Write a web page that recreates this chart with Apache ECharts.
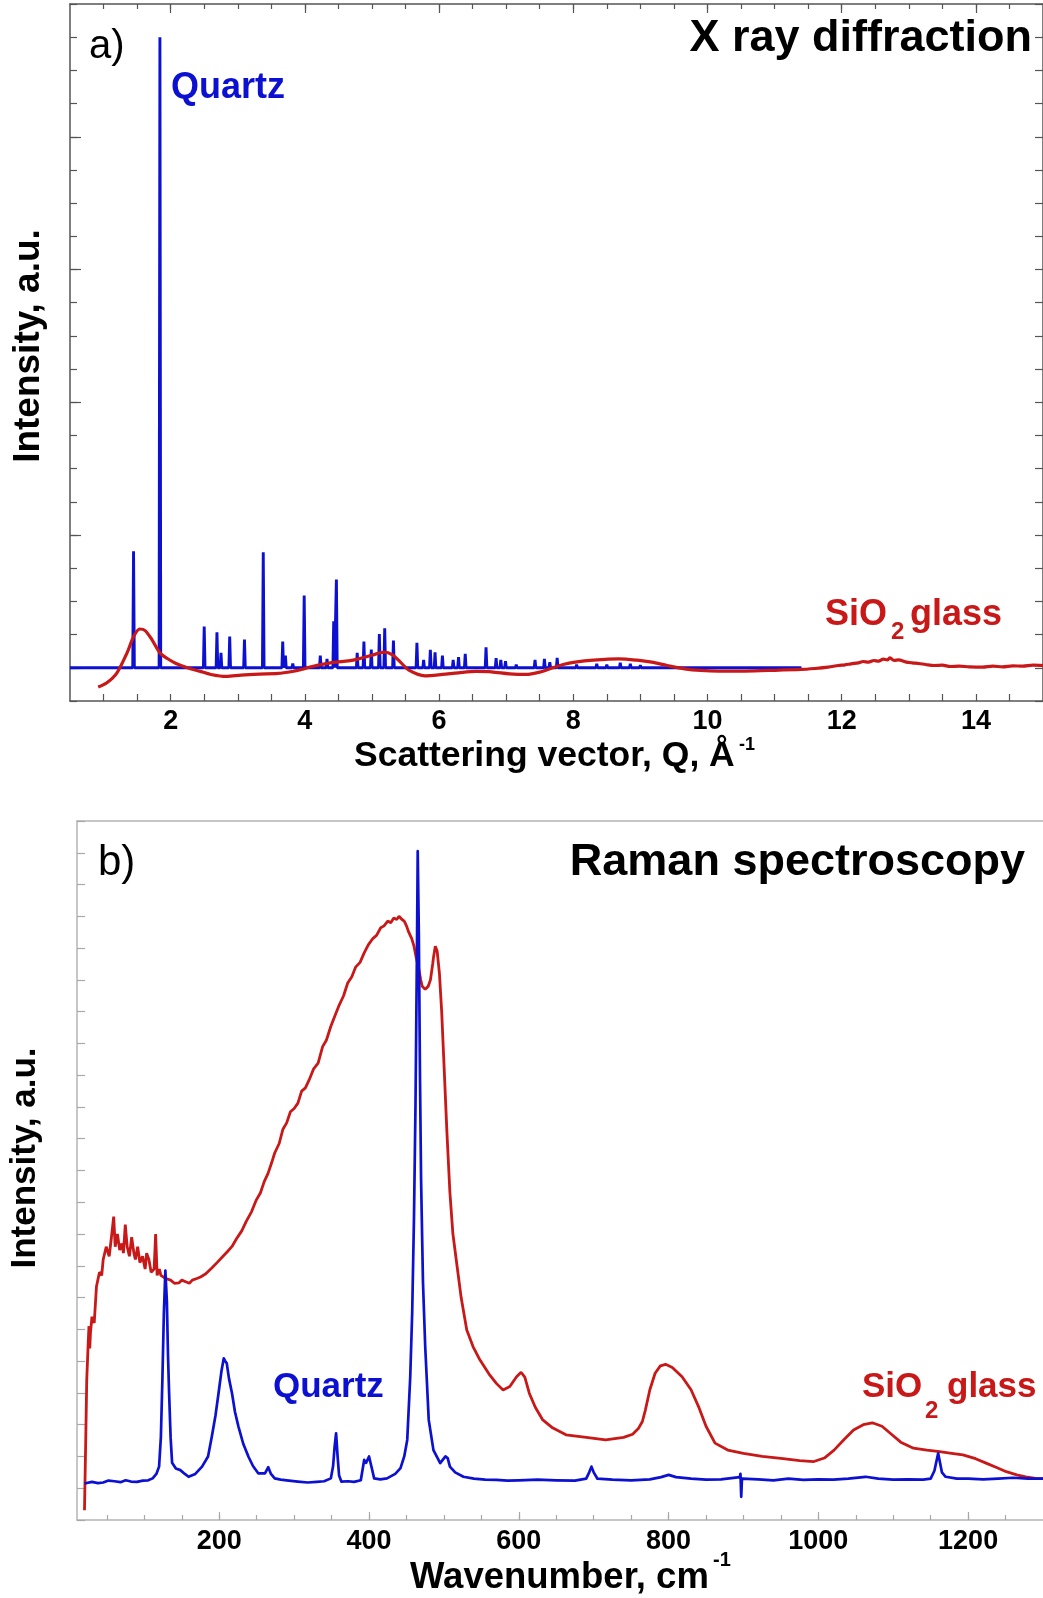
<!DOCTYPE html>
<html>
<head>
<meta charset="utf-8">
<script src="https://cdn.jsdelivr.net/npm/echarts@6/dist/echarts.min.js"></script>
<style>
  html, body { margin: 0; padding: 0; background: #fff; }
  #chart { width: 1043px; height: 1598px; }
</style>
</head>
<body>
<div id="chart"></div>
<script>
// ---- a) X ray diffraction ----
// quartz Bragg peaks: [Q, intensity]
var xrdQuartzPeaks = [
    [1.447, 3.51], [1.84, 19.0], [2.50, 1.24], [2.69, 1.07], [2.75, 0.45],
    [2.88, 0.94], [3.10, 0.85], [3.38, 3.48], [3.67, 0.79], [3.71, 0.37],
    [3.82, 0.13], [3.99, 2.18], [4.23, 0.37], [4.33, 0.27], [4.43, 1.40],
    [4.47, 2.66], [4.78, 0.45], [4.88, 0.79], [4.99, 0.55], [5.11, 1.02],
    [5.19, 1.19], [5.32, 0.82], [5.67, 0.75], [5.77, 0.24], [5.87, 0.54],
    [5.94, 0.47], [6.05, 0.37], [6.21, 0.24], [6.29, 0.32], [6.39, 0.42],
    [6.70, 0.62], [6.85, 0.29], [6.92, 0.24], [6.99, 0.20], [7.15, 0.10],
    [7.43, 0.24], [7.57, 0.27], [7.65, 0.17], [7.76, 0.30], [8.05, 0.10],
    [8.35, 0.12], [8.50, 0.10], [8.70, 0.15], [8.85, 0.12], [9.00, 0.08]
];
var xrdQuartzRange = [0.5, 11.4];

// SiO2 glass structure factor: [Q, intensity]
var xrdGlass = [
    [0.92, -0.58], [1.05, -0.45], [1.20, -0.15], [1.35, 0.45], [1.45, 0.95],
    [1.54, 1.17], [1.62, 1.12], [1.72, 0.85], [1.84, 0.45], [1.95, 0.28],
    [2.08, 0.13], [2.25, 0.00], [2.43, -0.10], [2.60, -0.20], [2.83, -0.26],
    [3.05, -0.22], [3.32, -0.19], [3.60, -0.17], [3.81, -0.11], [3.95, -0.05],
    [4.11, 0.04], [4.30, 0.12], [4.46, 0.17], [4.65, 0.21], [4.80, 0.27],
    [5.00, 0.38], [5.18, 0.47], [5.30, 0.40], [5.42, 0.18], [5.55, -0.07],
    [5.79, -0.24], [6.05, -0.20], [6.29, -0.15], [6.55, -0.11], [6.78, -0.12],
    [7.05, -0.18], [7.29, -0.20], [7.50, -0.13], [7.69, 0.00], [7.85, 0.10],
    [8.03, 0.17], [8.30, 0.23], [8.68, 0.27], [8.95, 0.23], [9.17, 0.17],
    [9.40, 0.07], [9.66, -0.03], [9.90, -0.08], [10.16, -0.10], [10.50, -0.10],
    [10.90, -0.08], [11.39, -0.05], [11.60, -0.02], [11.80, 0.02], [11.95, 0.07],
    [12.05, 0.09], [12.14, 0.12], [12.25, 0.15], [12.32, 0.19], [12.40, 0.17],
    [12.48, 0.22], [12.55, 0.20], [12.62, 0.26], [12.68, 0.24], [12.72, 0.30],
    [12.78, 0.22], [12.85, 0.24], [12.95, 0.18], [13.05, 0.15], [13.15, 0.13],
    [13.25, 0.10], [13.38, 0.07], [13.50, 0.08], [13.62, 0.04], [13.75, 0.05],
    [13.90, 0.03], [14.10, 0.02], [14.25, 0.05], [14.40, 0.03], [14.55, 0.06],
    [14.70, 0.05], [14.85, 0.08], [15.00, 0.07]
];
var xrdTickLabels = [2, 4, 6, 8, 10, 12, 14];

// ---- b) Raman spectroscopy ----
// SiO2 glass: [wavenumber, intensity]
var ramanGlass = [
    [20, 0.31], [21.5, 2.3], [23, 4.4], [25, 5.6], [26, 6.1], [27, 5.4], [28, 5.9],
    [30, 6.4], [33, 6.2], [36, 7.35], [40, 7.8], [43, 7.7], [45, 8.2], [49, 8.6],
    [53, 8.3], [56, 8.9], [59, 9.55], [61, 8.6], [64, 9.0], [67, 8.5], [70, 8.7],
    [72, 8.4], [74.5, 9.3], [77, 8.6], [80, 8.3], [83, 8.9], [86, 8.4], [88, 8.2],
    [91, 8.6], [94, 8.1], [97.5, 8.3], [101, 7.9], [103, 8.4], [106, 8.2], [109, 7.8],
    [113, 7.9], [115, 9.0], [117, 7.7], [120, 7.9], [122, 7.7], [128.5, 7.6], [135, 7.55],
    [140, 7.45], [146, 7.46], [150, 7.55], [155, 7.5], [160, 7.45], [164, 7.55], [170, 7.6],
    [175, 7.65], [182, 7.75], [190, 7.93], [197, 8.1], [205, 8.3], [211, 8.45], [217, 8.61],
    [223, 8.85], [230, 9.1], [236, 9.4], [243, 9.7], [249, 10.05], [255, 10.3], [260, 10.65],
    [265, 10.9], [270, 11.25], [274, 11.55], [280, 11.85], [285, 12.3], [290, 12.5], [295, 12.85],
    [300, 12.95], [305, 13.12], [310, 13.5], [315, 13.6], [320, 13.85], [326, 14.2], [332, 14.38],
    [338, 14.9], [343, 15.1], [349, 15.54], [355, 15.9], [360, 16.2], [366, 16.5], [371.5, 16.9],
    [377, 17.1], [382, 17.4], [388, 17.55], [393.5, 17.85], [399, 18.1], [405, 18.3], [410, 18.4],
    [415.6, 18.64], [420, 18.7], [425, 18.85], [429, 18.8], [433, 18.95], [437, 18.9], [440, 19.0],
    [444, 18.9], [447, 18.85], [450, 18.7], [453, 18.5], [457, 18.3], [460, 18.06], [463, 17.7],
    [466, 17.4], [469, 17.0], [471, 16.8], [475, 16.7], [479, 16.8], [482, 17.0], [485, 17.5],
    [486, 17.7], [488.5, 18.06], [491, 17.9], [494, 17.2], [497, 16.0], [499.6, 14.6], [504, 12.2],
    [508, 10.3], [512, 9.0], [517, 8.09], [523, 7.0], [530.5, 5.98], [539, 5.45], [548, 5.04],
    [560, 4.6], [570, 4.3], [579, 4.09], [588, 4.2], [597, 4.51], [603, 4.65], [608, 4.5],
    [614, 3.99], [622, 3.55], [632, 3.15], [645, 2.9], [663, 2.68], [690, 2.6], [716, 2.52],
    [740, 2.6], [752, 2.7], [760, 2.89], [765, 3.1], [769, 3.46], [775, 4.1], [782, 4.62],
    [789, 4.85], [796, 4.9], [805, 4.8], [818, 4.51], [830, 4.1], [840, 3.57], [850, 2.95],
    [862, 2.42], [879, 2.2], [900, 2.1], [925, 2.0], [950, 1.94], [975, 1.87], [994, 1.84],
    [1008, 1.95], [1021, 2.2], [1035, 2.55], [1047, 2.83], [1060, 3.0], [1072, 3.06], [1085, 2.95],
    [1096, 2.73], [1110, 2.45], [1127, 2.26], [1145, 2.2], [1162, 2.15], [1178, 2.1], [1193, 2.05],
    [1210, 1.93], [1224, 1.79], [1238, 1.65], [1251, 1.52], [1265, 1.42], [1277, 1.36], [1290, 1.31],
    [1300, 1.3]
];

// quartz: [wavenumber, intensity]
var ramanQuartz = [
    [20, 1.15], [30, 1.2], [38, 1.16], [45, 1.18], [52, 1.24], [60, 1.22], [68, 1.19],
    [75, 1.25], [82, 1.21], [90, 1.2], [98, 1.24], [105, 1.25], [111, 1.31], [116, 1.45],
    [119.6, 1.68], [122, 2.6], [124, 4.4], [126, 6.5], [128, 7.85], [130, 6.9], [131.5, 5.2],
    [133, 4.0], [135, 2.6], [137, 1.8], [142, 1.62], [148, 1.57], [154, 1.45], [159, 1.36],
    [168, 1.45], [177, 1.68], [185, 2.0], [190, 2.62], [195, 3.3], [199, 3.99], [203, 4.7],
    [206, 5.09], [208, 5.0], [210, 4.93], [213, 4.45], [217, 3.99], [221, 3.4], [225.6, 2.94],
    [232, 2.4], [239, 1.99], [245, 1.7], [252, 1.47], [261, 1.47], [265.4, 1.66], [269, 1.45],
    [274, 1.31], [282, 1.27], [290, 1.25], [305, 1.21], [318, 1.18], [330, 1.2], [340, 1.22],
    [349, 1.31], [352, 1.7], [354, 2.3], [356, 2.73], [358, 2.0], [360, 1.4], [363, 1.21],
    [372, 1.22], [380, 1.2], [389, 1.25], [393.5, 1.89], [396, 1.8], [400, 2.0], [403, 1.7],
    [406.8, 1.31], [415, 1.28], [424, 1.31], [435, 1.45], [442, 1.63], [447, 2.0], [451, 2.52],
    [455, 4.5], [457.6, 6.51], [460, 9.5], [462, 13.0], [464, 18.0], [465, 21.05], [466.5, 18.5],
    [468, 14.0], [469.5, 10.7], [472, 7.5], [475, 5.46], [479.7, 3.15], [486, 2.2], [495, 1.79],
    [502, 2.0], [505, 1.95], [508, 1.68], [515, 1.5], [526, 1.36], [540, 1.3], [555, 1.27],
    [570, 1.26], [585, 1.24], [600, 1.25], [625, 1.27], [650, 1.25], [675, 1.24], [690, 1.3],
    [694, 1.5], [697, 1.68], [700, 1.5], [705, 1.3], [725, 1.27], [750, 1.25], [775, 1.28],
    [790, 1.35], [800, 1.42], [810, 1.35], [830, 1.3], [850, 1.27], [870, 1.28], [895, 1.35],
    [896, 1.45], [897, 0.73], [898, 1.3], [920, 1.28], [940, 1.25], [960, 1.3], [980, 1.26],
    [1000, 1.28], [1020, 1.27], [1040, 1.3], [1063, 1.36], [1080, 1.3], [1100, 1.27], [1120, 1.28],
    [1140, 1.27], [1150, 1.3], [1155, 1.55], [1160, 2.1], [1165, 1.5], [1170, 1.36], [1185, 1.3],
    [1200, 1.3], [1220, 1.28], [1240, 1.3], [1260, 1.33], [1280, 1.3], [1300, 1.3]
];
var ramanTickLabels = [200, 400, 600, 800, 1000, 1200];

var BLUE = '#0c10d0';
var RED = '#c81818';
var FONT = '"Liberation Sans", Arial, sans-serif';

var range = function(a, b, step) {
    var out = [];
    for (var v = a; v <= b + 1e-9; v += step) out.push(Math.round(v * 100) / 100);
    return out;
};

// quartz sticks -> line data
var sticks = function(peaks, span) {
    var d = [[span[0], 0]];
    peaks.forEach(function(p) {
        d.push([p[0] - 0.012, 0], [p[0], p[1]], [p[0] + 0.012, 0]);
    });
    d.push([span[1], 0]);
    return d;
};

var frameA = { show: true, onZero: false, lineStyle: { color: '#555', width: 1.5 } };
var frameB = { show: true, onZero: false, lineStyle: { color: '#b4b4b4', width: 1.5 } };
var tickLabel = {
    fontFamily: FONT, fontWeight: 'bold', fontSize: 27, color: '#000',
    formatter: function(v) { return String(v); }
};

var option = {
    animation: false,
    backgroundColor: '#fff',
    grid: [
        { left: 70, right: -4, top: 4, bottom: 897 },
        { left: 77, right: -8, top: 821, bottom: 78 }
    ],
    xAxis: [
        {   // a bottom
            gridIndex: 0, type: 'value', position: 'bottom', min: 0.5, max: 15,
            axisLine: frameA,
            axisTick: { inside: true, length: 7, customValues: range(1, 14.5, 0.5), lineStyle: { color: '#555', width: 1.2 } },
            axisLabel: Object.assign({ margin: 7, customValues: xrdTickLabels }, tickLabel),
            splitLine: { show: false }
        },
        {   // a top, short ticks
            gridIndex: 0, type: 'value', position: 'top', min: 0.5, max: 15,
            axisLine: frameA,
            axisTick: { inside: true, length: 5, customValues: range(1, 14.5, 0.5), lineStyle: { color: '#555', width: 1.2 } },
            axisLabel: { show: false }, splitLine: { show: false }
        },
        {   // a top, long ticks
            gridIndex: 0, type: 'value', position: 'top', min: 0.5, max: 15,
            axisLine: { show: false, onZero: false },
            axisTick: { inside: true, length: 9, customValues: xrdTickLabels, lineStyle: { color: '#555', width: 1.2 } },
            axisLabel: { show: false }, splitLine: { show: false }
        },
        {   // b bottom, short ticks
            gridIndex: 1, type: 'value', position: 'bottom', min: 10, max: 1300,
            axisLine: frameB,
            axisTick: { inside: true, length: 5, customValues: range(50, 1250, 50), lineStyle: { color: '#a8a8a8', width: 1.2 } },
            axisLabel: Object.assign({ margin: 8, customValues: ramanTickLabels }, tickLabel),
            splitLine: { show: false }
        },
        {   // b bottom, long ticks
            gridIndex: 1, type: 'value', position: 'bottom', min: 10, max: 1300,
            axisLine: { show: false, onZero: false },
            axisTick: { inside: true, length: 8, customValues: ramanTickLabels, lineStyle: { color: '#a8a8a8', width: 1.2 } },
            axisLabel: { show: false }, splitLine: { show: false }
        },
        {   // b top frame
            gridIndex: 1, type: 'value', position: 'top', min: 10, max: 1300,
            axisLine: frameB, axisTick: { show: false },
            axisLabel: { show: false }, splitLine: { show: false }
        }
    ],
    yAxis: [
        {
            gridIndex: 0, type: 'value', position: 'left', min: -1, max: 20, interval: 1,
            axisLine: frameA,
            axisTick: { inside: true, length: 7, lineStyle: { color: '#555', width: 1.2 } },
            axisLabel: { show: false }, splitLine: { show: false }
        },
        {
            gridIndex: 0, type: 'value', position: 'left', min: -1, max: 20,
            axisLine: { show: false, onZero: false },
            axisTick: { inside: true, length: 11, customValues: [0, 4, 8, 12, 16], lineStyle: { color: '#555', width: 1.2 } },
            axisLabel: { show: false }, splitLine: { show: false }
        },
        {
            gridIndex: 0, type: 'value', position: 'right', min: -1, max: 20, interval: 1,
            axisLine: frameA,
            axisTick: { inside: true, length: 8, lineStyle: { color: '#555', width: 1.2 } },
            axisLabel: { show: false }, splitLine: { show: false }
        },
        {
            gridIndex: 1, type: 'value', position: 'left', min: 0, max: 22, interval: 1,
            axisLine: frameB,
            axisTick: { inside: true, length: 8, lineStyle: { color: '#a8a8a8', width: 1.2 } },
            axisLabel: { show: false }, splitLine: { show: false }
        }
    ],
    series: [
        {
            type: 'line', xAxisIndex: 0, yAxisIndex: 0, data: sticks(xrdQuartzPeaks, xrdQuartzRange),
            showSymbol: false, silent: true,
            lineStyle: { color: BLUE, width: 2.9, join: 'bevel' }
        },
        {
            type: 'line', xAxisIndex: 0, yAxisIndex: 0, data: xrdGlass, smooth: 0.3,
            showSymbol: false, silent: true,
            lineStyle: { color: RED, width: 3.2 }
        },
        {
            type: 'line', xAxisIndex: 3, yAxisIndex: 3, data: ramanGlass,
            showSymbol: false, silent: true,
            lineStyle: { color: RED, width: 2.8 }
        },
        {
            type: 'line', xAxisIndex: 3, yAxisIndex: 3, data: ramanQuartz,
            showSymbol: false, silent: true,
            lineStyle: { color: BLUE, width: 2.7, join: 'round' }
        }
    ],
    graphic: []
};

var txt = function(x, y, text, size, opts) {
    opts = opts || {};
    return {
        type: 'text', x: x, y: y, rotation: opts.rotation || 0, silent: true, z: 100,
        style: {
            text: text, fontFamily: FONT, fontSize: size,
            fontWeight: opts.weight || 'bold', fill: opts.color || '#000',
            align: opts.align || 'left', verticalAlign: 'middle'
        }
    };
};

option.graphic = [
    // panel a
    txt(89, 47, 'a)', 40, { weight: 'normal' }),
    txt(1032, 39, 'X ray diffraction', 45, { align: 'right' }),
    txt(171, 88, 'Quartz', 36, { color: BLUE }),
    txt(825, 615, 'SiO', 36, { color: RED }),
    txt(891, 632, '2', 24, { color: RED }),
    txt(910, 615, 'glass', 36, { color: RED }),
    txt(354, 756, 'Scattering vector, Q, \u00C5', 35.5),
    txt(739, 745, '-1', 18),
    txt(29, 346, 'Intensity, a.u.', 37, { align: 'center', rotation: Math.PI / 2 }),
    // panel b
    txt(98, 863, 'b)', 42, { weight: 'normal' }),
    txt(1025, 863, 'Raman spectroscopy', 45, { align: 'right' }),
    txt(273, 1387, 'Quartz', 35, { color: BLUE }),
    txt(862, 1387, 'SiO', 35, { color: RED }),
    txt(925, 1411, '2', 24, { color: RED }),
    txt(947, 1387, 'glass', 35, { color: RED }),
    txt(410, 1578, 'Wavenumber, cm', 36.5),
    txt(713, 1560, '-1', 20),
    txt(25, 1158, 'Intensity, a.u.', 35, { align: 'center', rotation: Math.PI / 2 })
];

var myChart = echarts.init(document.getElementById('chart'), null, { renderer: 'canvas' });
myChart.setOption(option);
</script>
</body>
</html>
